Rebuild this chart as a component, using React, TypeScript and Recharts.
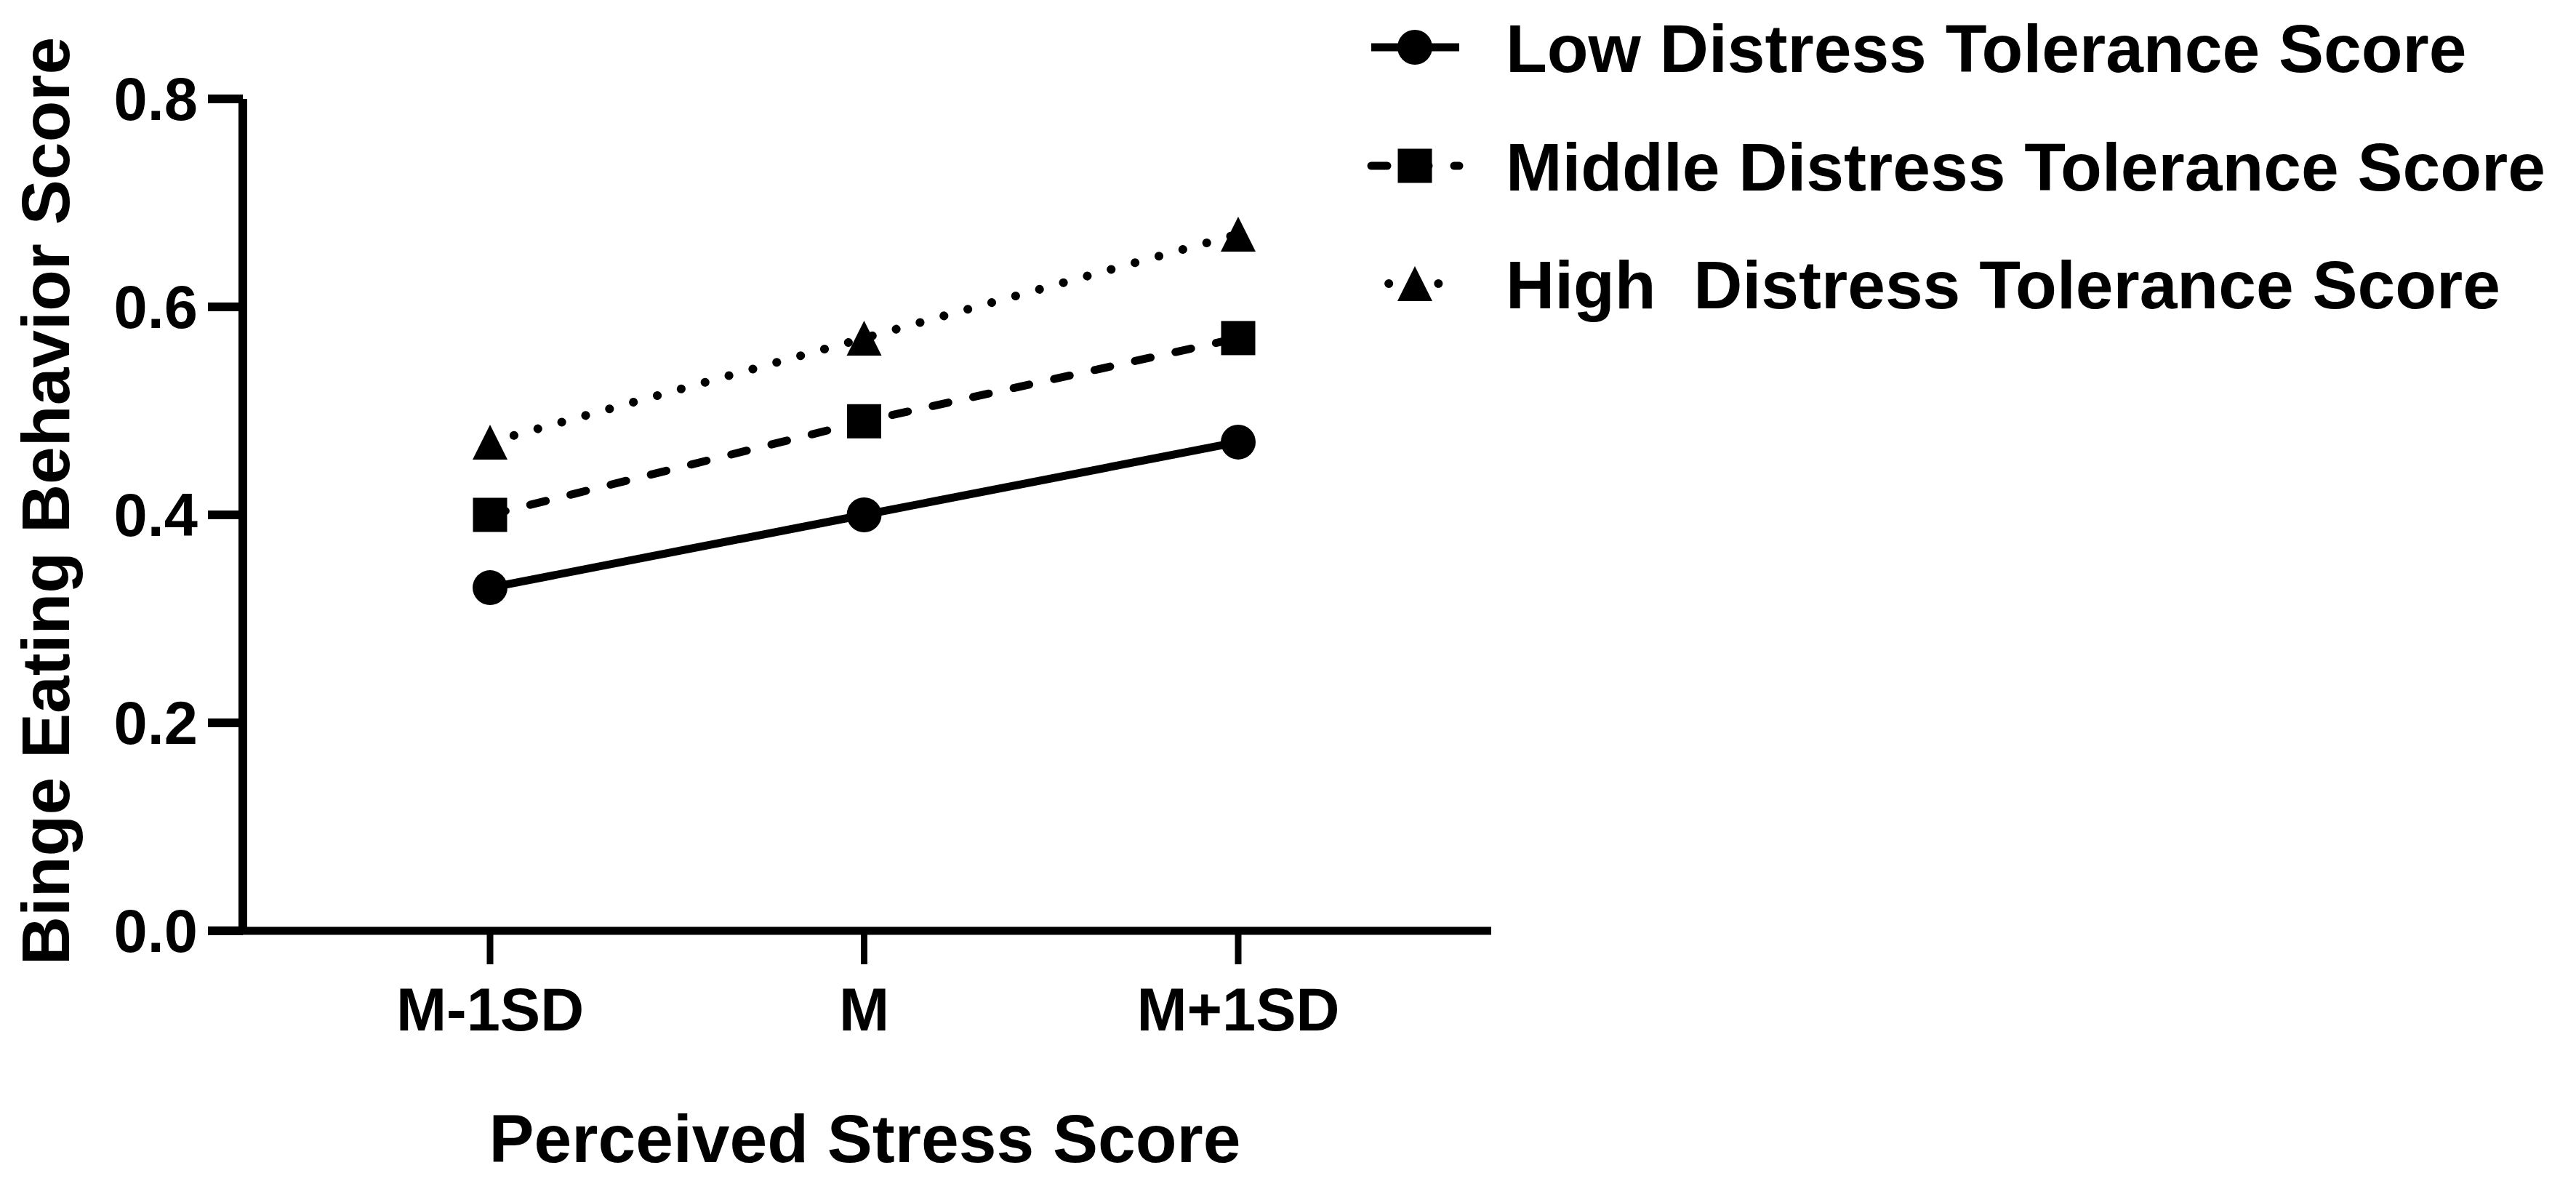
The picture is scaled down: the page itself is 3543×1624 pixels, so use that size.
import React from "react"
import { LineChart, Line, XAxis, YAxis, Legend } from "recharts"

const categories = ["M-1SD", "M", "M+1SD"]
const lowScores = [0.33, 0.4, 0.47]
const middleScores = [0.4, 0.49, 0.57]
const highScores = [0.47, 0.57, 0.67]
const yTicks = [0, 0.2, 0.4, 0.6, 0.8]

const seriesKeys = ["low", "middle", "high"] as const
const seriesNames = {
  low: "Low Distress Tolerance Score",
  middle: "Middle Distress Tolerance Score",
  high: "High  Distress Tolerance Score",
}

const FONT = '"Liberation Sans", Arial, Helvetica, sans-serif'

const chartData = categories.map((stress, i) => ({
  stress,
  low: lowScores[i],
  middle: middleScores[i],
  high: highScores[i],
}))

// dash styles per series (shared by plot lines and legend samples)
const lineStyles: Record<string, { dash?: string; width: number }> = {
  low: { width: 11 },
  middle: { dash: "22 35", width: 11 },
  high: { dash: "0.1 34", width: 12 },
}

function Marker({ kind, cx, cy }: { kind: string; cx: number; cy: number }) {
  if (kind === "low") return <circle cx={cx} cy={cy} r={24} fill="#000" />
  if (kind === "middle")
    return <rect x={cx - 23.5} y={cy - 23.5} width={47} height={47} fill="#000" />
  return (
    <polygon
      points={`${cx},${cy - 24} ${cx - 24},${cy + 24} ${cx + 24},${cy + 24}`}
      fill="#000"
    />
  )
}

const dotFor = (kind: string) => (props: any) => {
  const { cx, cy, index } = props
  if (cx == null || cy == null) return <g key={`${kind}-${index}`} />
  return (
    <g key={`${kind}-${index}`}>
      <Marker kind={kind} cx={cx} cy={cy} />
    </g>
  )
}

const renderLegend = (props: any) => {
  const payload = [...(props.payload || [])].sort(
    (a: any, b: any) =>
      seriesKeys.indexOf(a.dataKey) - seriesKeys.indexOf(b.dataKey)
  )
  const rowY = [65, 228, 390]
  return (
    <svg width={1683} height={480}>
      {payload.map((entry: any, i: number) => {
        const key = entry.dataKey as string
        const st = lineStyles[key]
        const y = rowY[i]
        return (
          <g key={key}>
            <line
              x1={26}
              x2={147}
              y1={y}
              y2={y}
              stroke="#000"
              strokeWidth={st.width}
              strokeDasharray={st.dash}
              strokeDashoffset={key === "high" ? 10 : 0}
              strokeLinecap={st.dash ? "round" : "butt"}
            />
            <Marker kind={key} cx={86} cy={y} />
            <text
              x={211}
              y={y + 34}
              fontFamily={FONT}
              fontWeight="bold"
              fontSize={93}
              fill="#000"
              style={{ whiteSpace: "pre" }}
            >
              {entry.value}
            </text>
          </g>
        )
      })}
    </svg>
  )
}

const yTitle = (props: any) => {
  const vb = props.viewBox || { x: 0, y: 136, width: 334, height: 1144 }
  const x = vb.x + 95
  const y = vb.y + vb.height / 2 - 19
  return (
    <text
      x={x}
      y={y}
      transform={`rotate(-90, ${x}, ${y})`}
      textAnchor="middle"
      fontFamily={FONT}
      fontWeight="bold"
      fontSize={93}
      fill="#000"
    >
      Binge Eating Behavior Score
    </text>
  )
}

const xTitle = (props: any) => {
  const vb = props.viewBox || { x: 334, y: 1280, width: 1717, height: 344 }
  return (
    <text
      x={vb.x + vb.width / 2 - 3}
      y={vb.y + 318}
      textAnchor="middle"
      fontFamily={FONT}
      fontWeight="bold"
      fontSize={93}
      fill="#000"
    >
      Perceived Stress Score
    </text>
  )
}

export default function App() {
  const tickStyle = { fill: "#000", fontSize: 83, fontWeight: "bold", fontFamily: FONT }
  return (
    <div style={{ position: "absolute", left: 0, top: 0, background: "#fff" }}>
      <LineChart
        width={3543}
        height={1624}
        data={chartData}
        margin={{ top: 136, right: 1492, left: 0, bottom: 0 }}
      >
        <XAxis
          dataKey="stress"
          type="category"
          padding={{ left: 340, right: 348 }}
          height={344}
          tick={tickStyle}
          tickSize={46}
          tickMargin={32}
          axisLine={{ stroke: "#000", strokeWidth: 11 }}
          tickLine={{ stroke: "#000", strokeWidth: 9 }}
          interval={0}
          label={xTitle}
        />
        <YAxis
          domain={[0, 0.8]}
          ticks={yTicks}
          tickFormatter={(v: number) => v.toFixed(1)}
          width={334}
          tick={tickStyle}
          tickSize={48}
          tickMargin={14}
          axisLine={{ stroke: "#000", strokeWidth: 12 }}
          tickLine={{ stroke: "#000", strokeWidth: 12 }}
          label={yTitle}
        />
        <Legend
          layout="vertical"
          align="center"
          verticalAlign="middle"
          content={renderLegend}
          wrapperStyle={{ left: 1860, top: 0, width: 1683, height: 480 }}
        />
        {seriesKeys.map((key) => (
          <Line
            key={key}
            type="linear"
            dataKey={key}
            name={seriesNames[key]}
            stroke="#000"
            strokeWidth={lineStyles[key].width}
            strokeDasharray={lineStyles[key].dash}
            strokeLinecap={lineStyles[key].dash ? "round" : "butt"}
            dot={dotFor(key)}
            activeDot={false}
            isAnimationActive={false}
            legendType="line"
          />
        ))}
      </LineChart>
    </div>
  )
}
